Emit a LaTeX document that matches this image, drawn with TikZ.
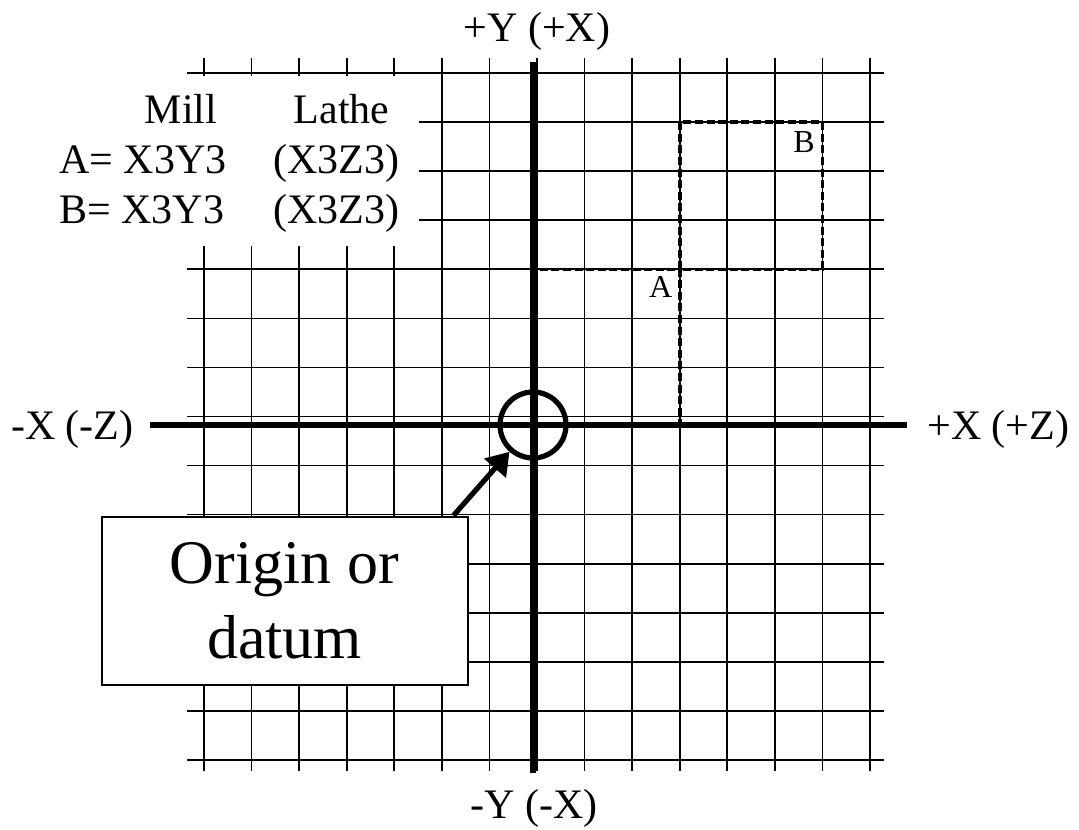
\documentclass[tikz,border=0pt]{standalone}
\usepackage{fontspec}
\setmainfont{Liberation Serif}
\usetikzlibrary{arrows.meta,positioning}

\begin{document}
\begin{tikzpicture}[x=0.5pt,y=-0.5pt,
  gridline/.style={line width=0.8pt},
  axisline/.style={line width=2.6pt},
  dashbox/.style={line width=1.8pt,dash pattern=on 4pt off 1.8pt},
  ring/.style={circle,draw,line width=2.6pt,minimum size=33pt,inner sep=0pt},
  axlab/.style={font=\fontsize{21}{25}\selectfont,inner sep=0pt},
  tbl/.style={font=\fontsize{21}{25}\selectfont,inner sep=0pt},
  ptlab/.style={font=\fontsize{16}{19}\selectfont,inner sep=0pt},
  callout/.style={draw,fill=white,line width=1pt,minimum width=183pt,
                  minimum height=84pt,align=center,
                  font=\fontsize{31}{37.5}\selectfont},
  pointer/.style={line width=2.6pt,-{Triangle[length=11pt,width=14pt]}}
]
  \useasboundingbox (0,0) rectangle (1079,829);

  % grid
  \foreach \i in {0,...,14}
    \draw[gridline] ({204+47.57*\i},58) -- ({204+47.57*\i},771);
  \foreach \j in {0,...,14}
    \draw[gridline] (187,{73+49.07*\j}) -- (884,{73+49.07*\j});
  \fill[white] (150,76) rectangle (419,246);

  \coordinate (O) at (533,425);
  \coordinate (ptA) at (679.7,269.3);
  \coordinate (ptB) at (822.4,122.1);
  \coordinate (xneg) at (150,425);
  \coordinate (xpos) at (907,425);
  \coordinate (ypos) at (533,62);
  \coordinate (yneg) at (533,773);

  % moves
  \draw[dashbox] (O) rectangle (ptA);
  \draw[dashbox] (ptA) rectangle (ptB);
  \node[ptlab,anchor=north east] (labA) at ([xshift=-3.5pt,yshift=-3.5pt]ptA) {A};
  \node[ptlab,anchor=north east] (labB) at ([xshift=-3.7pt,yshift=-4.5pt]ptB) {B};

  % axes
  \draw[axisline] (xneg) -- (xpos);
  \draw[axisline] (ypos) -- (yneg);
  \node[axlab,anchor=base] (yposlab) at (537,42) {+Y (+X)};
  \node[axlab,anchor=base] (yneglab) at (534,818) {-Y (-X)};
  \node[axlab,anchor=base east] (xneglab) at (134,439) {-X (-Z)};
  \node[axlab,anchor=base west] (xposlab) at (927,439) {+X (+Z)};

  % table
  \node[tbl,anchor=base] (mill) at (181,123) {Mill};
  \node[tbl,anchor=base] (lathe) at (341.5,123) {Lathe};
  \node[tbl,anchor=base west] (millA) at (59,173) {A= X3Y3};
  \node[tbl,anchor=base west] (latheA) at (273,173) {(X3Z3)};
  \node[tbl,anchor=base west] (millB) at (59,223) {B= X3Y3};
  \node[tbl,anchor=base west] (latheB) at (273,223) {(X3Z3)};

  % origin
  \node[ring] (ring) at (O) {};
  \node[callout] (box) at (284.5,600.5) {Origin or\\datum};
  \draw[pointer] ([xshift=-7.5pt]box.north east) -- (ring);
\end{tikzpicture}
\end{document}
